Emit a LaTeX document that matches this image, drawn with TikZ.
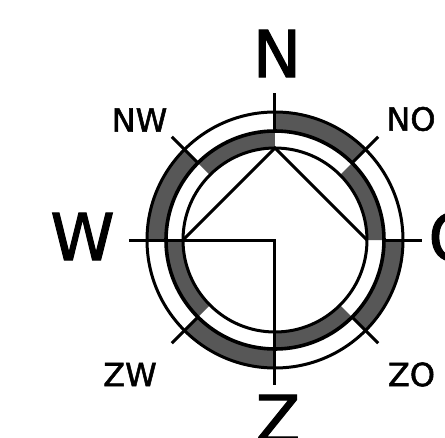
\documentclass[tikz,border=0pt]{standalone}
\usepackage{fontspec}
\setmainfont[FakeBold=1.6]{DejaVu Sans}
\definecolor{ringgray}{HTML}{575757}
\tikzset{
  bigl/.style={inner sep=0pt,font=\fontsize{65}{65}\selectfont},
  smalll/.style={inner sep=0pt,font=\fontsize{32}{32}\selectfont},
  ln/.style={draw=black,line width=3pt},
  ringline/.style={draw=black,line width=3pt,fill=none}
}
\begin{document}
\begin{tikzpicture}[x=1pt,y=1pt]
\useasboundingbox (-275,-197) rectangle (170,240);
\clip (-275,-197) rectangle (170,240);
\fill[white] (-275,-197) rectangle (170,240);
% outer band segments
\foreach \a in {45,315,225,135}{
  \fill[ringgray] (\a:129) arc[start angle=\a,delta angle=45,radius=129] -- (\a+45:109) arc[start angle=\a+45,delta angle=-45,radius=109] -- cycle;
}
% inner band segments
\foreach \a in {0,270,180,90}{
  \fill[ringgray] (\a:109) arc[start angle=\a,delta angle=45,radius=109] -- (\a+45:92) arc[start angle=\a+45,delta angle=-45,radius=92] -- cycle;
}
\draw[ringline] (0,0) circle[radius=128];
\draw[ringline,line width=3.6pt] (0,0) circle[radius=109];
\draw[ringline] (0,0) circle[radius=92];
% ticks
\foreach \a in {45,135,225,315}{
  \draw[ln] (\a:109) -- (\a:146);
}
\draw[ln] (90:109) -- (90:147);
\draw[ln] (0:109) -- (0:147);
\draw[ln] (-146,0) -- (0,0) -- (0,-145);
\draw[ln] (-92,0) -- (0,92) -- (92,0);
% labels
\node[bigl] (n) at (2,186.5) {N};
\node[bigl] (w) at (-192.5,3.5) {W};
\node[bigl] (o) at (179,3) {O};
\node[bigl] (z) at (3,-178.5) {Z};
\node[smalll] (nw) at (-135.5,120) {NW};
\node[smalll] (no) at (136,121) {NO};
\node[smalll] (zw) at (-145,-134.5) {ZW};
\node[smalll] (zo) at (136.5,-134.5) {ZO};
\end{tikzpicture}
\end{document}
